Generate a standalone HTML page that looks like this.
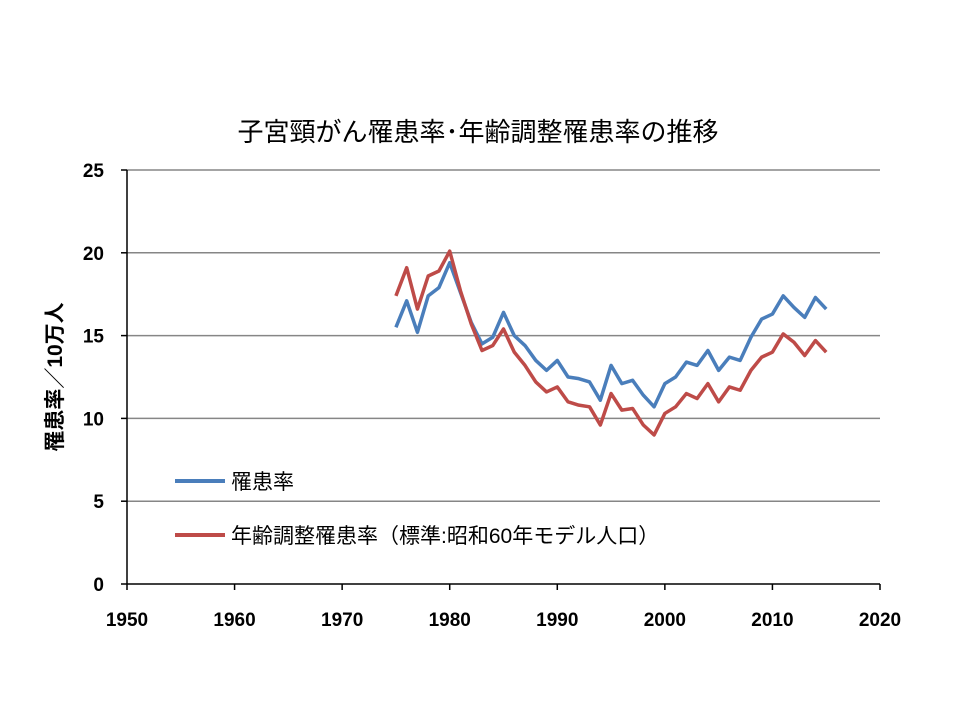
<!DOCTYPE html>
<html><head><meta charset="utf-8"><style>
body{margin:0;background:#fff}
svg text{font-family:"Liberation Sans","Noto Sans CJK JP",sans-serif}
</style></head><body>
<svg width="960" height="720">
<text x="478" y="141" text-anchor="middle" font-size="26">子宮頸がん罹患率･年齢調整罹患率の推移</text>
<g id="grid"></g><g id="axes"></g><g id="series"></g>
<text transform="translate(62,377) rotate(-90)" text-anchor="middle" font-size="21" font-weight="bold">罹患率／10万人</text>
<g>
<line x1="175" y1="481" x2="225" y2="481" stroke="#4a7ebb" stroke-width="4"/>
<text x="231" y="489" font-size="21">罹患率</text>
<line x1="175" y1="535" x2="225" y2="535" stroke="#be4b48" stroke-width="4"/>
<text x="231" y="543" font-size="21">年齢調整罹患率（標準:昭和60年モデル人口）</text>
</g>
</svg>
<script>
const years=[1975,1976,1977,1978,1979,1980,1981,1982,1983,1984,1985,1986,1987,1988,1989,1990,1991,1992,1993,1994,1995,1996,1997,1998,1999,2000,2001,2002,2003,2004,2005,2006,2007,2008,2009,2010,2011,2012,2013,2014,2015];
const crudeRate=[15.5,17.1,15.2,17.4,17.9,19.4,17.6,15.8,14.5,14.9,16.4,15.0,14.4,13.5,12.9,13.5,12.5,12.4,12.2,11.1,13.2,12.1,12.3,11.4,10.7,12.1,12.5,13.4,13.2,14.1,12.9,13.7,13.5,14.9,16.0,16.3,17.4,16.7,16.1,17.3,16.6];
const adjustedRate=[17.4,19.1,16.6,18.6,18.9,20.1,17.7,15.7,14.1,14.4,15.4,14.0,13.2,12.2,11.6,11.9,11.0,10.8,10.7,9.6,11.5,10.5,10.6,9.6,9.0,10.3,10.7,11.5,11.2,12.1,11.0,11.9,11.7,12.9,13.7,14.0,15.1,14.6,13.8,14.7,14.0];
const xTicks=[1950,1960,1970,1980,1990,2000,2010,2020];
const yTicks=[0,5,10,15,20,25];
const NS="http://www.w3.org/2000/svg";
const X0=127,X1=880,Y0=584,Y1=170;
const xs=v=>X0+(v-1950)/70*(X1-X0);
const ys=v=>Y0-v/25*(Y0-Y1);
function mk(tag,attrs,parent,txt){const e=document.createElementNS(NS,tag);for(const k in attrs)e.setAttribute(k,attrs[k]);if(txt!=null)e.textContent=txt;document.getElementById(parent).appendChild(e);return e;}
yTicks.forEach(t=>{
 if(t>0){const g=mk('line',{x1:X0,x2:X1,y1:ys(t),y2:ys(t),stroke:'#868686','stroke-width':1.5},'grid');
 
 }
 const tk=mk('line',{x1:X0-6,x2:X0,y1:ys(t),y2:ys(t),stroke:'#000','stroke-width':1.5},'axes');
 
 
 const l=mk('text',{x:X0-23,y:ys(t)+7,'text-anchor':'end','font-size':19,'font-weight':'bold'},'axes',t);
 
 
});
xTicks.forEach(t=>{
 const tk=mk('line',{x1:xs(t),x2:xs(t),y1:Y0,y2:Y0+6,stroke:'#000','stroke-width':1.5},'axes');
 
 
 const l=mk('text',{x:xs(t),y:Y0+42,'text-anchor':'middle','font-size':19,'font-weight':'bold'},'axes',t);
 
 
});
const ya=mk('line',{x1:X0,x2:X0,y1:Y1,y2:Y0,stroke:'#000','stroke-width':1.5},'axes');


const xa=mk('line',{x1:X0,x2:X1,y1:Y0,y2:Y0,stroke:'#000','stroke-width':1.5},'axes');


const p1=mk('polyline',{points:years.map((y,i)=>xs(y)+','+ys(crudeRate[i])).join(' '),fill:'none',stroke:'#4a7ebb','stroke-width':3.5,'stroke-linejoin':'round'},'series');


const p2=mk('polyline',{points:years.map((y,i)=>xs(y)+','+ys(adjustedRate[i])).join(' '),fill:'none',stroke:'#be4b48','stroke-width':3.5,'stroke-linejoin':'round'},'series');


</script>
</body></html>
